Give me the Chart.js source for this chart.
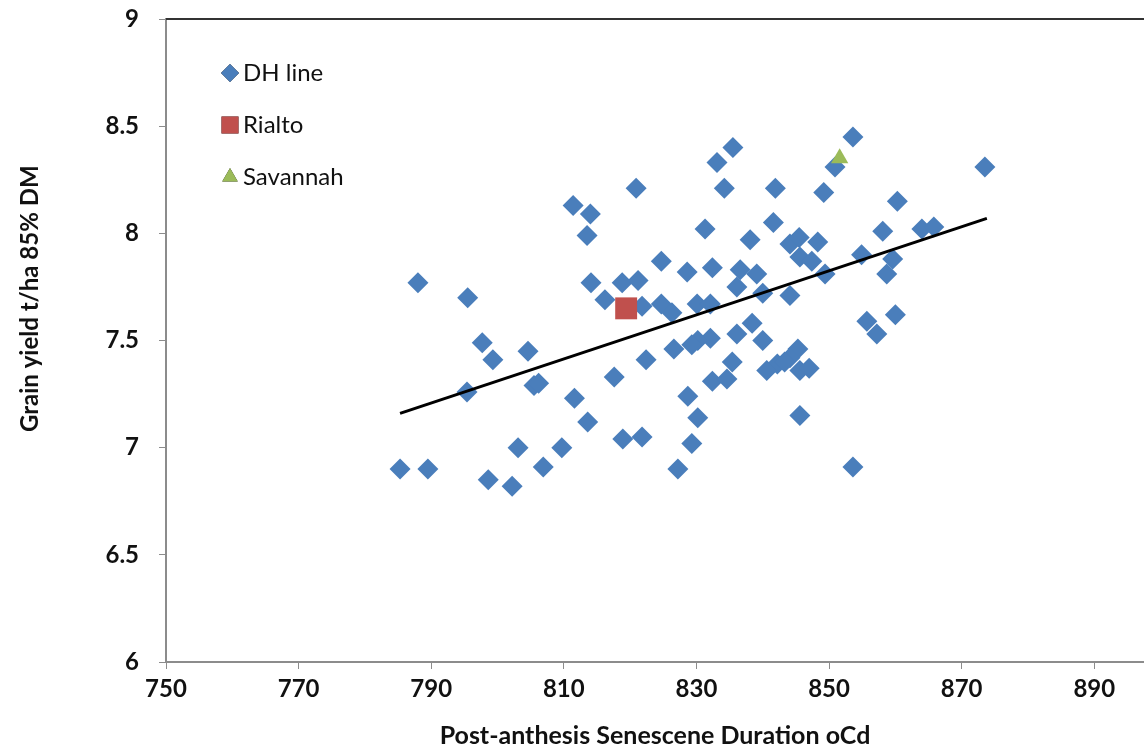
<!DOCTYPE html>
<html>
<head>
<meta charset="utf-8">
<script src="https://cdn.jsdelivr.net/npm/chart.js@4/dist/chart.umd.min.js"></script>
<style>
  html, body { margin: 0; padding: 0; background: #fff; overflow: hidden; }
  canvas { display: block; }
</style>
</head>
<body>
<canvas id="myChart" width="1144" height="753"></canvas>
<script>
const xTicks = [750, 770, 790, 810, 830, 850, 870, 890];
const yTicks = [6, 6.5, 7, 7.5, 8, 8.5, 9];

// DH lines
const dhX = [853.6, 835.5, 833.1, 850.9, 873.5, 820.9, 834.2, 841.9, 849.2, 860.3,
             811.4, 814.0, 841.6, 831.3, 864.0, 865.8, 858.1, 813.5, 838.1, 844.1,
             845.5, 848.3, 845.6, 847.4, 854.9, 859.6, 824.7, 828.6, 832.4, 836.6,
             839.1, 849.4, 858.7, 788.0, 814.1, 818.8, 821.2, 795.5, 816.2, 836.1,
             840.0, 844.1, 821.8, 824.7, 826.3, 830.1, 832.1, 838.4, 855.7, 857.2,
             860.0, 836.1, 840.0, 832.1, 830.2, 829.3, 826.6, 797.7, 804.6, 799.3,
             822.4, 835.4, 845.3, 844.1, 842.2, 845.6, 840.6, 817.6, 832.4, 834.6,
             805.5, 806.2, 795.4, 811.6, 828.7, 813.6, 830.2, 845.6, 803.1, 809.7,
             818.9, 821.8, 829.3, 806.9, 785.3, 789.5, 827.2, 853.6, 798.6, 802.2,
             843.3, 847.0];
const dhY = [8.45, 8.40, 8.33, 8.31, 8.31, 8.21, 8.21, 8.21, 8.19, 8.15,
             8.13, 8.09, 8.05, 8.02, 8.02, 8.03, 8.01, 7.99, 7.97, 7.95,
             7.98, 7.96, 7.89, 7.87, 7.90, 7.88, 7.87, 7.82, 7.84, 7.83,
             7.81, 7.81, 7.81, 7.77, 7.77, 7.77, 7.78, 7.70, 7.69, 7.75,
             7.72, 7.71, 7.66, 7.67, 7.63, 7.67, 7.67, 7.58, 7.59, 7.53,
             7.62, 7.53, 7.50, 7.51, 7.50, 7.48, 7.46, 7.49, 7.45, 7.41,
             7.41, 7.40, 7.46, 7.42, 7.39, 7.36, 7.36, 7.33, 7.31, 7.32,
             7.29, 7.30, 7.26, 7.23, 7.24, 7.12, 7.14, 7.15, 7.00, 7.00,
             7.04, 7.05, 7.02, 6.91, 6.90, 6.90, 6.90, 6.91, 6.85, 6.82,
             7.40, 7.37];

const rialtoX = [819.4];
const rialtoY = [7.65];
const savannahX = [851.6];
const savannahY = [8.35];

// trend line end points
const trendX = [785.3, 873.8];
const trendY = [7.16, 8.07];

const toPoints = (xs, ys) => xs.map((x, i) => ({ x: x, y: ys[i] }));

const FONT = 'Lato, "Open Sans", sans-serif';
const axisGrey = '#8c8c8c';
const yTitle = 'Grain yield t/ha 85% DM';

// top frame, y title (sits a bit above centre in the original) and legend inside the plot
const insideLegend = {
  id: 'insideLegend',
  afterDraw(chart) {
    const ctx = chart.ctx;
    const area = chart.chartArea;
    ctx.save();
    ctx.strokeStyle = '#333';
    ctx.lineWidth = 2;
    ctx.beginPath();
    ctx.moveTo(area.left, area.top);
    ctx.lineTo(area.right, area.top);
    ctx.stroke();

    ctx.save();
    ctx.translate(30, area.top + (area.bottom - area.top) * 0.435);
    ctx.rotate(-Math.PI / 2);
    ctx.fillStyle = '#111';
    ctx.font = 'bold 24px ' + FONT;
    ctx.textAlign = 'center';
    ctx.textBaseline = 'middle';
    ctx.fillText(yTitle, 0, 0);
    ctx.restore();

    const items = chart.data.datasets.filter(d => d.inLegend).reverse();
    let y = area.top + 54;
    items.forEach(d => {
      const lx = area.left + 64;
      Chart.helpers.drawPoint(ctx, {
        pointStyle: d.pointStyle,
        radius: d.legendRadius,
        rotation: 0,
        borderWidth: 0
      }, lx, y);
      ctx.fillStyle = d.backgroundColor;
      ctx.fill();
      ctx.fillStyle = '#111';
      ctx.font = '24px ' + FONT;
      ctx.textBaseline = 'middle';
      ctx.textAlign = 'left';
      ctx.fillText(d.label, lx + 13, y);
      y += 52;
    });
    ctx.restore();
  }
};

const data = {
  datasets: [
    {
      label: 'trend',
      data: toPoints(trendX, trendY),
      showLine: true,
      borderColor: '#000',
      borderWidth: 3,
      pointRadius: 0,
      order: 0
    },
    {
      label: 'Savannah',
      data: toPoints(savannahX, savannahY),
      pointStyle: 'triangle',
      backgroundColor: '#9BBB59',
      borderWidth: 0,
      pointRadius: 10,
      legendRadius: 9,
      inLegend: true,
      order: 1
    },
    {
      label: 'Rialto',
      data: toPoints(rialtoX, rialtoY),
      pointStyle: 'rect',
      backgroundColor: '#C0504D',
      borderWidth: 0,
      pointRadius: 15.5,
      legendRadius: 12,
      inLegend: true,
      order: 2
    },
    {
      label: 'DH line',
      data: toPoints(dhX, dhY),
      pointStyle: 'rectRot',
      backgroundColor: '#4A7EBB',
      borderWidth: 0,
      pointRadius: 10.5,
      legendRadius: 9,
      inLegend: true,
      order: 3
    }
  ]
};

const config = {
  type: 'scatter',
  data: data,
  plugins: [insideLegend],
  options: {
    responsive: false,
    animation: false,
    devicePixelRatio: 1,
    layout: {
      autoPadding: false,
      padding: { top: 19, right: 0, left: 0, bottom: 0 }
    },
    plugins: {
      legend: { display: false },
      tooltip: { enabled: false }
    },
    scales: {
      x: {
        type: 'linear',
        min: 750,
        max: 897.5,
        afterBuildTicks: (axis) => { axis.ticks = xTicks.map(v => ({ value: v })); },
        afterFit: (axis) => {
          axis.height = 91;
          axis.paddingLeft = 0;
          axis.paddingRight = 0;
        },
        grid: {
          drawOnChartArea: false,
          drawTicks: true,
          tickLength: 7,
          color: axisGrey
        },
        border: { color: axisGrey, width: 2 },
        ticks: {
          color: '#111',
          padding: 6,
          maxRotation: 0,
          font: { family: FONT, size: 24, weight: 'bold' },
          callback: (v) => String(v)
        },
        title: {
          display: true,
          text: 'Post-anthesis Senescene Duration oCd',
          color: '#111',
          padding: { top: 0, bottom: 2 },
          font: { family: FONT, size: 25, weight: 'bold' }
        }
      },
      y: {
        type: 'linear',
        min: 6,
        max: 9,
        afterBuildTicks: (axis) => { axis.ticks = yTicks.map(v => ({ value: v })); },
        afterFit: (axis) => {
          axis.width = 166;
          axis.paddingTop = 0;
          axis.paddingBottom = 0;
        },
        grid: {
          drawOnChartArea: false,
          drawTicks: true,
          tickLength: 7,
          color: axisGrey
        },
        border: { color: axisGrey, width: 2 },
        ticks: {
          color: '#111',
          padding: 20,
          font: { family: FONT, size: 24, weight: 'bold' },
          callback: (v) => String(v)
        },
        title: { display: false }
      }
    }
  }
};

const myChart = new Chart(document.getElementById('myChart').getContext('2d'), config);
</script>
</body>
</html>
